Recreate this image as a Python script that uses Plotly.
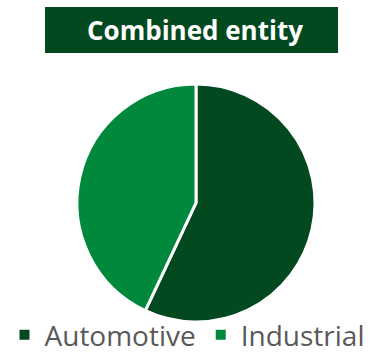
import plotly.graph_objects as go

labels = ["Automotive", "Industrial"]
values = [57, 43]
colors = ["#02491F", "#00893D"]
title_text = "Combined entity"

fig = go.Figure()
fig.add_trace(go.Pie(
    labels=labels, values=values, sort=False, direction="clockwise", rotation=0,
    marker=dict(colors=colors, line=dict(color="white", width=3)),
    textinfo="none", hoverinfo="label+percent",
    domain=dict(x=[0.2053, 0.84], y=[0.1056, 0.7667]),
))

fig.add_shape(type="rect", xref="paper", yref="paper",
              x0=45/375, x1=338/375, y0=1-53/360, y1=1-7/360,
              fillcolor="#02491F", line=dict(width=0), layer="below")
fig.add_annotation(text="<b>" + title_text + "</b>", xref="paper", yref="paper",
                   x=195/375, y=1-30/360, showarrow=False,
                   font=dict(family="Open Sans", size=26, color="white"),
                   xanchor="center", yanchor="middle")

fig.update_layout(
    width=375, height=360,
    margin=dict(l=0, r=0, t=0, b=0, autoexpand=False),
    paper_bgcolor="white", plot_bgcolor="white",
    showlegend=True,
    legend=dict(orientation="h", x=0.012, xanchor="left",
                y=0, yanchor="bottom", bgcolor="rgba(0,0,0,0)",
                font=dict(family="Open Sans", size=28, color="#595959"),
                itemsizing="constant", traceorder="normal"),
)

fig.write_html("out.html")
